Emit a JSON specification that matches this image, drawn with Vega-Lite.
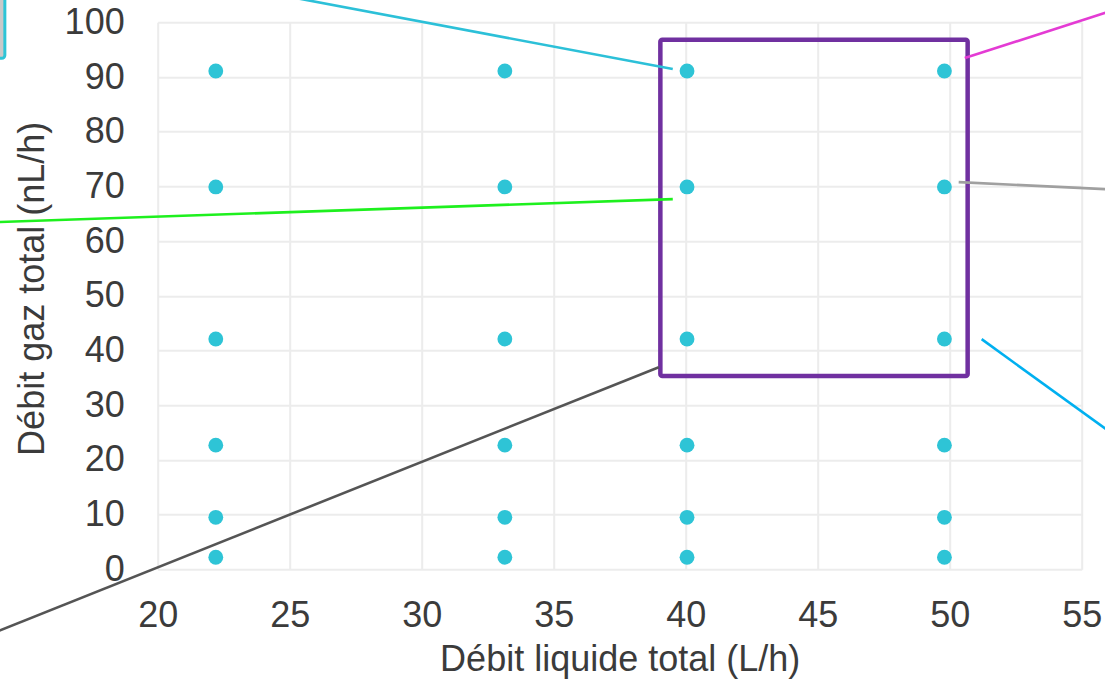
{
  "$schema": "https://vega.github.io/schema/vega-lite/v6.json",
  "width": 924,
  "height": 547,
  "autosize": {"type": "none"},
  "padding": {"left": 157.7, "top": 22.3, "right": 23.3, "bottom": 114.7},
  "background": "white",
  "config": {
    "view": {"stroke": null},
    "font": "Liberation Sans",
    "axis": {
      "domain": false,
      "ticks": false,
      "grid": true,
      "gridColor": "#ececec",
      "gridWidth": 2,
      "labelFont": "Liberation Sans",
      "labelFontSize": 36,
      "labelColor": "#3b3b3b",
      "titleFont": "Liberation Sans",
      "titleFontSize": 36,
      "titleFontWeight": "normal",
      "titleColor": "#3b3b3b"
    }
  },
  "datasets": {
    "points": [
      {"liquide": 22.2, "gaz": 91.1}, {"liquide": 22.2, "gaz": 69.9}, {"liquide": 22.2, "gaz": 42.1},
      {"liquide": 22.2, "gaz": 22.7}, {"liquide": 22.2, "gaz": 9.5}, {"liquide": 22.2, "gaz": 2.2},
      {"liquide": 33.15, "gaz": 91.1}, {"liquide": 33.15, "gaz": 69.9}, {"liquide": 33.15, "gaz": 42.1},
      {"liquide": 33.15, "gaz": 22.7}, {"liquide": 33.15, "gaz": 9.5}, {"liquide": 33.15, "gaz": 2.2},
      {"liquide": 40.05, "gaz": 91.1}, {"liquide": 40.05, "gaz": 69.9}, {"liquide": 40.05, "gaz": 42.1},
      {"liquide": 40.05, "gaz": 22.7}, {"liquide": 40.05, "gaz": 9.5}, {"liquide": 40.05, "gaz": 2.2},
      {"liquide": 49.8, "gaz": 91.1}, {"liquide": 49.8, "gaz": 69.9}, {"liquide": 49.8, "gaz": 42.1},
      {"liquide": 49.8, "gaz": 22.7}, {"liquide": 49.8, "gaz": 9.5}, {"liquide": 49.8, "gaz": 2.2}
    ],
    "zone": [{"x1": 39.04, "x2": 50.68, "y1": 35.36, "y2": 96.8}],
    "callout": [{"x1": 10, "x2": 14.21, "y1": 93.42, "y2": 112}],
    "leaders": [
      {"line": "cyan", "o": 1, "x": 23.61, "y": 105.91},
      {"line": "cyan", "o": 2, "x": 39.51, "y": 91.46},
      {"line": "green", "o": 1, "x": 13.65, "y": 63.42},
      {"line": "green", "o": 2, "x": 39.51, "y": 67.68},
      {"line": "dark", "o": 1, "x": 13.65, "y": -11.89},
      {"line": "dark", "o": 2, "x": 38.98, "y": 36.95},
      {"line": "magenta", "o": 1, "x": 50.57, "y": 93.47},
      {"line": "magenta", "o": 2, "x": 56.25, "y": 102.29},
      {"line": "gray", "o": 1, "x": 50.34, "y": 70.79},
      {"line": "gray", "o": 2, "x": 56.25, "y": 69.42},
      {"line": "blue", "o": 1, "x": 51.21, "y": 42.07},
      {"line": "blue", "o": 2, "x": 56.25, "y": 24.47}
    ]
  },
  "layer": [
    {
      "data": {"name": "points"},
      "mark": {"type": "circle", "size": 220, "opacity": 1, "color": "#2EC4D6"},
      "encoding": {
        "x": {
          "field": "liquide", "type": "quantitative",
          "scale": {"domain": [20, 55], "nice": false, "zero": false},
          "axis": {
            "values": [20, 25, 30, 35, 40, 45, 50, 55],
            "title": "Débit liquide total (L/h)",
            "labelBaseline": "alphabetic",
            "labelPadding": 57.5,
            "labelFlush": false,
            "titleBaseline": "alphabetic",
            "titleY": 101,
            "titleAnchor": "middle"
          }
        },
        "y": {
          "field": "gaz", "type": "quantitative",
          "scale": {"domain": [0, 100], "nice": false},
          "axis": {
            "values": [0, 10, 20, 30, 40, 50, 60, 70, 80, 90, 100],
            "title": "Débit gaz total (nL/h)",
            "labelPadding": 33.5,
            "labelFlush": false,
            "titleBaseline": "alphabetic",
            "titleAngle": 270,
            "titleX": -114.7,
            "titleY": 266,
            "titleAlign": "center"
          }
        }
      }
    },
    {
      "data": {"name": "callout"},
      "mark": {"type": "rect", "clip": false, "fill": "#c9c9c9", "stroke": "#2EC4D6", "strokeWidth": 3, "cornerRadius": 3},
      "encoding": {
        "x": {"field": "x1", "type": "quantitative"},
        "x2": {"field": "x2"},
        "y": {"field": "y1", "type": "quantitative"},
        "y2": {"field": "y2"}
      }
    },
    {
      "data": {"name": "zone"},
      "mark": {"type": "rect", "fill": null, "fillOpacity": 0, "stroke": "#7030A0", "strokeWidth": 4.5, "strokeJoin": "round", "cornerRadius": 2},
      "encoding": {
        "x": {"field": "x1", "type": "quantitative"},
        "x2": {"field": "x2"},
        "y": {"field": "y1", "type": "quantitative"},
        "y2": {"field": "y2"}
      }
    },
    {
      "data": {"name": "leaders"},
      "mark": {"type": "line", "clip": false, "strokeWidth": 2.6},
      "encoding": {
        "x": {"field": "x", "type": "quantitative"},
        "y": {"field": "y", "type": "quantitative"},
        "order": {"field": "o", "type": "quantitative"},
        "color": {
          "field": "line", "type": "nominal", "legend": null,
          "scale": {
            "domain": ["cyan", "green", "dark", "magenta", "gray", "blue"],
            "range": ["#2CC0D8", "#1EF01E", "#555555", "#E43BD4", "#A0A0A0", "#00B0F0"]
          }
        }
      }
    }
  ]
}
